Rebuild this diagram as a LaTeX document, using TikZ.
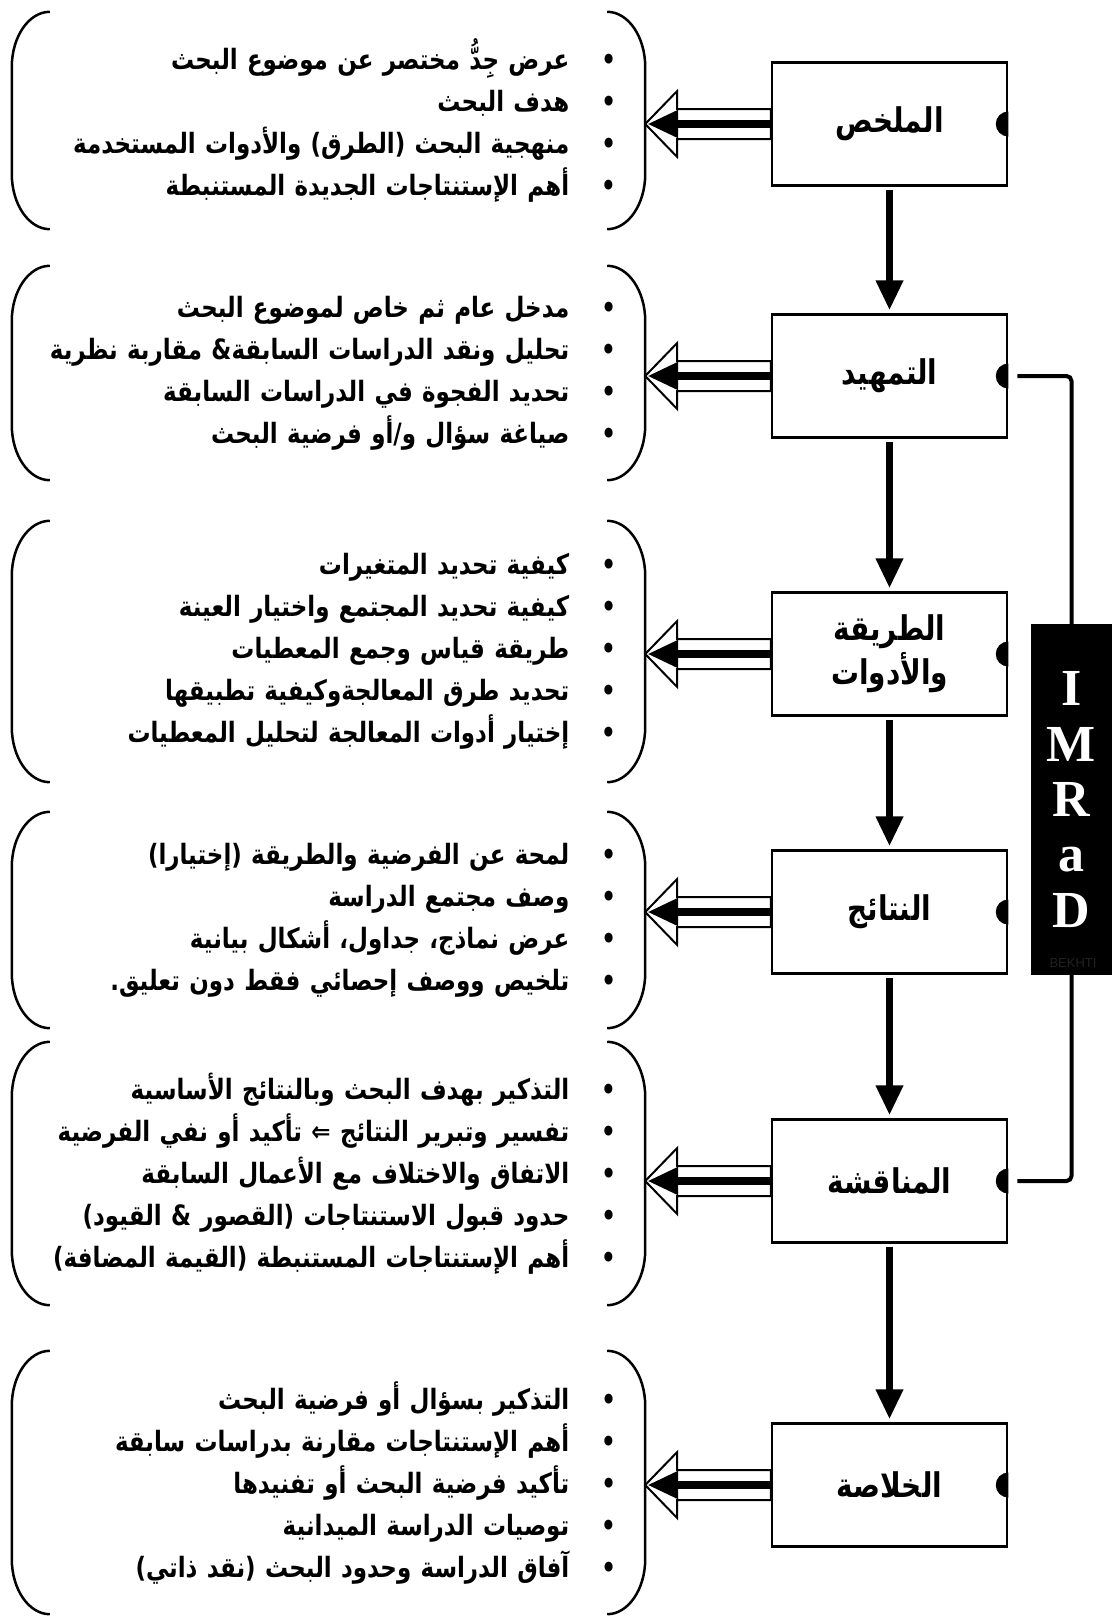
\documentclass[tikz,border=0pt]{standalone}
\usepackage{fontspec}
\usetikzlibrary{arrows.meta,positioning,calc}
\TeXXeTstate=1
\newfontfamily\arabicfont[Script=Arabic,FakeStretch=0.82]{DejaVu Sans}
\newfontfamily\serifbold{Liberation Serif}
\newfontfamily\marksans{Liberation Sans}
\newcommand{\bul}[1]{\beginR•\hspace{32pt}#1\endR}

\begin{document}
\begin{tikzpicture}[x=1pt,y=-1pt,
  stage/.style={draw,line width=2.5pt,minimum width=235pt,minimum height=123pt,inner sep=0pt,align=center,
    font=\arabicfont\bfseries\fontsize{34}{44}\selectfont},
  group/.style={inner xsep=29pt,inner ysep=0pt,text width=575pt,align=right,
    font=\arabicfont\bfseries\fontsize{28}{42}\selectfont},
  brace/.style={line width=2.5pt},
  flow/.style={line width=7pt,shorten <=3pt,shorten >=3pt,-{Triangle[length=30pt,width=26pt]}},
  push/.style={line width=8pt,-{Triangle[length=31pt,width=26pt]}},
  hollow/.style={draw,fill=white,line width=2pt},
  link/.style={line width=4pt,rounded corners=5pt}]
  \useasboundingbox (0,0) rectangle (1112,1617);
  % stages
  \node[stage] (abs) at (889.5,124) {الملخص};
  \node[stage] (intro) at (889.5,376) {التمهيد};
  \node[stage] (meth) at (889.5,654) {الطريقة\\والأدوات};
  \node[stage] (res) at (889.5,912) {النتائج};
  \node[stage] (disc) at (889.5,1181) {المناقشة};
  \node[stage] (conc) at (889.5,1485) {الخلاصة};
  \foreach \a/\b in {abs/intro,intro/meth,meth/res,res/disc,disc/conc}
    \draw[flow] (\a.south) -- (\b.north);
  % item groups
  \node[group,minimum height=217pt] (gAbs) at (328.5,120.5) {%
    \bul{عرض جِدُّ مختصر عن موضوع البحث}\\
    \bul{هدف البحث}\\
    \bul{منهجية البحث (الطرق) والأدوات المستخدمة}\\
    \bul{أهم الإستنتاجات الجديدة المستنبطة}};
  \node[group,minimum height=214pt] (gIntro) at (328.5,373) {%
    \bul{مدخل عام ثم خاص لموضوع البحث}\\
    \bul{تحليل ونقد الدراسات السابقة\hbox{\&} مقاربة نظرية}\\
    \bul{تحديد الفجوة في الدراسات السابقة}\\
    \bul{صياغة سؤال و/أو فرضية البحث}};
  \node[group,minimum height=261pt] (gMeth) at (328.5,651.5) {%
    \bul{كيفية تحديد المتغيرات}\\
    \bul{كيفية تحديد المجتمع واختيار العينة}\\
    \bul{طريقة قياس وجمع المعطيات}\\
    \bul{تحديد طرق المعالجةوكيفية تطبيقها}\\
    \bul{إختيار أدوات المعالجة لتحليل المعطيات}};
  \node[group,minimum height=216pt] (gRes) at (328.5,920) {%
    \bul{لمحة عن الفرضية والطريقة (إختيارا)}\\
    \bul{وصف مجتمع الدراسة}\\
    \bul{عرض نماذج، جداول، أشكال بيانية}\\
    \bul{تلخيص ووصف إحصائي فقط دون تعليق.}};
  \node[group,minimum height=263pt] (gDisc) at (328.5,1173.5) {%
    \bul{التذكير بهدف البحث وبالنتائج الأساسية}\\
    \bul{تفسير وتبرير النتائج ⇐ تأكيد أو نفي الفرضية}\\
    \bul{الاتفاق والاختلاف مع الأعمال السابقة}\\
    \bul{حدود قبول الاستنتاجات (القصور \hbox{\&} القيود)}\\
    \bul{أهم الإستنتاجات المستنبطة (القيمة المضافة)}};
  \node[group,minimum height=263pt] (gConc) at (328.5,1482.5) {%
    \bul{التذكير بسؤال أو فرضية البحث}\\
    \bul{أهم الإستنتاجات مقارنة بدراسات سابقة}\\
    \bul{تأكيد فرضية البحث أو تفنيدها}\\
    \bul{توصيات الدراسة الميدانية}\\
    \bul{آفاق الدراسة وحدود البحث (نقد ذاتي)}};
  % brackets round each group
  \foreach \g in {gAbs,gIntro,gMeth,gRes,gDisc,gConc}{
    \draw[brace] ([xshift=38pt]\g.north west) .. controls ([xshift=17pt]\g.north west) and ([yshift=-25pt]\g.north west) .. ([yshift=-55pt]\g.north west)
      -- ([yshift=55pt]\g.south west) .. controls ([yshift=25pt]\g.south west) and ([xshift=17pt]\g.south west) .. ([xshift=38pt]\g.south west);
    \draw[brace] ([xshift=-38pt]\g.north east) .. controls ([xshift=-17pt]\g.north east) and ([yshift=-25pt]\g.north east) .. ([yshift=-55pt]\g.north east)
      -- ([yshift=55pt]\g.south east) .. controls ([yshift=25pt]\g.south east) and ([xshift=-17pt]\g.south east) .. ([xshift=-38pt]\g.south east);
  }
  % double arrows from stage to group, and the half dots
  \foreach \b/\g in {abs/gAbs,intro/gIntro,meth/gMeth,res/gRes,disc/gDisc,conc/gConc}{
    \coordinate (tip) at (\g.east |- \b.west);
    \draw[hollow] (tip) -- ($(tip)+(32,-33)$) -- ($(tip)+(32,-15)$) -- ([yshift=15pt]\b.west)
      -- ([yshift=-15pt]\b.west) -- ($(tip)+(32,15)$) -- ($(tip)+(32,33)$) -- cycle;
    \draw[push] (\b.west) -- ([xshift=2pt]tip);
    \begin{scope}
      \clip (\b.south west) rectangle (\b.north east);
      \fill (\b.east) circle (12.5pt);
    \end{scope}
  }
  % IMRaD bar
  \node[fill=black,text=white,minimum width=81pt,minimum height=351pt,inner sep=0pt,align=center,
    font=\serifbold\bfseries\fontsize{52}{55.3}\selectfont] (imrad) at (1071.5,799.5) {I\\M\\R\\a\\D};
  \node[text=white!13!black,font=\marksans\fontsize{13}{13}\selectfont] (sign) at (1073,963) {BEKHTI};
  \draw[link] ([xshift=9pt]intro.east) -| (imrad.north);
  \draw[link] (imrad.south) |- ([xshift=9pt]disc.east);
\end{tikzpicture}
\end{document}
